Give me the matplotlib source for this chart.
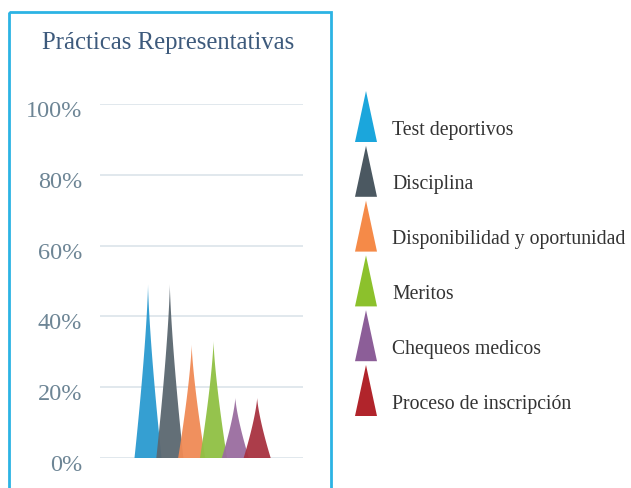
import numpy as np
import matplotlib
matplotlib.use("Agg")
import matplotlib.pyplot as plt
import matplotlib.transforms as mtransforms
from matplotlib.patches import Polygon, Rectangle

plt.rcParams['font.family'] = ['Liberation Serif', 'DejaVu Serif']

categories = ["Test deportivos", "Disciplina", "Disponibilidad y oportunidad",
              "Meritos", "Chequeos medicos", "Proceso de inscripción"]
values = [49, 49, 32, 33, 17, 17]
colors = ["#2a9ad0", "#5b6770", "#f08a55", "#8fc043", "#9a6d9f", "#a83240"]
legend_colors = ["#1ba6dc", "#4b5861", "#f58a48", "#8cc12c", "#8c5e98", "#b1242b"]
yticks = [0, 20, 40, 60, 80, 100]


def cone(x0, half, h, p=1.35, n=60):
    # spike with slightly concave sides
    ys = np.linspace(0, h, n)
    ws = half * (1 - ys / h) ** p
    xs = np.concatenate([x0 - ws, (x0 + ws)[::-1]])
    return np.column_stack([xs, np.concatenate([ys, ys[::-1]])])


W, H = 631, 489
fig = plt.figure(figsize=(W / 100, H / 100), dpi=100)

ax = fig.add_axes([100 / W, 30 / H, 203 / W, 354 / H])
for i, (v, c) in enumerate(zip(values, colors)):
    ax.add_patch(Polygon(cone(i, 0.62, v), closed=True, facecolor=c,
                         edgecolor='none', alpha=0.95, zorder=3))
ax.set_xlim(-2.2, 7.1)
ax.set_ylim(0, 100)
ax.set_yticks(yticks)
ax.set_yticklabels([f"{t}%" for t in yticks], fontsize=17.5, color="#6d8595")
ax.set_xticks([])
ax.grid(axis='y', color="#dce4ea", linewidth=1.2, zorder=0)
ax.tick_params(axis='y', length=0, pad=13)
# nudge tick labels a little below their gridlines
shift = mtransforms.ScaledTranslation(0, -4 / 100, fig.dpi_scale_trans)
for lab in ax.get_yticklabels():
    lab.set_transform(lab.get_transform() + shift)
for s in ax.spines.values():
    s.set_visible(False)

# overlay for frame, title and legend in pixel units
ov = fig.add_axes([0, 0, 1, 1], zorder=-1)
ov.set_xlim(0, W)
ov.set_ylim(H, 0)
ov.axis('off')
ov.add_patch(Rectangle((9, 13), 322, 490, fill=False, edgecolor="#2cb3e4",
                       linewidth=2))

ov2 = fig.add_axes([0, 0, 1, 1])
ov2.set_xlim(0, W)
ov2.set_ylim(H, 0)
ov2.axis('off')
ov2.text(168, 43, "Prácticas Representativas", ha='center', va='center',
         fontsize=17.8, color="#3d5a7c")

for k, (lab, c) in enumerate(zip(categories, legend_colors)):
    base = 143 + k * 54.8
    tri = np.array([[355, base], [366, base - 51], [377, base]])
    ov2.add_patch(Polygon(tri, closed=True, facecolor=c, edgecolor='none'))
    ov2.text(392, base - 13, lab, ha='left', va='center', fontsize=14.2,
             color="#333333")

fig.savefig("out.png", dpi=100)
